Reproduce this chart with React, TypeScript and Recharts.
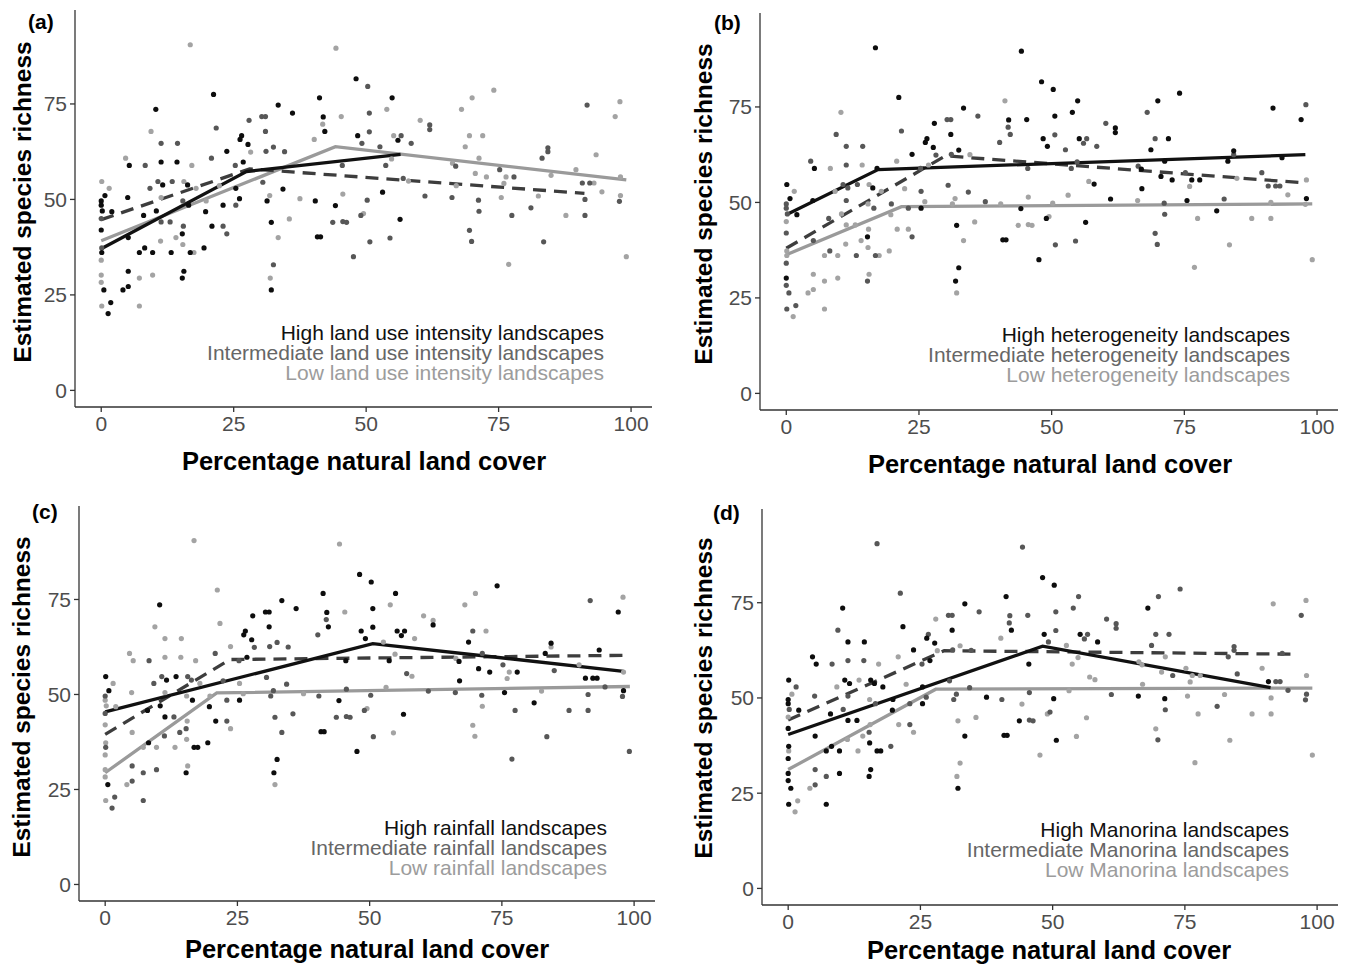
import { ComposedChart, Scatter, Line, XAxis, YAxis } from "recharts";

// shared scatter: [percent natural cover, richness, group in panels a/b/c/d]
// B = high, D = intermediate, L = low
const points: [number, number, string][] = [
  [16.8, 90.5, "LBLD"], [44.3, 89.6, "LBLD"], [21.2, 77.5, "BBLD"], [10.3, 73.6, "BLBB"],
  [41.2, 76.6, "BLBB"], [33.4, 74.7, "BBBB"], [36.1, 72.6, "BDBD"], [41.9, 71.6, "BBBD"],
  [30.3, 71.7, "DDBD"], [31.0, 71.7, "DDBD"], [27.9, 70.7, "DBBL"], [41.8, 69.7, "LDDD"],
  [42.2, 67.8, "BDBB"], [9.4, 67.8, "LDLD"], [21.7, 68.7, "DDLB"], [31.0, 67.8, "DBBB"],
  [40.2, 65.7, "LDDL"], [26.5, 66.7, "BBBD"], [26.2, 65.7, "BBBB"], [27.7, 64.4, "BBBB"],
  [32.5, 63.7, "DBDL"], [34.6, 62.5, "DLDD"], [11.3, 64.7, "DDLB"], [14.4, 64.7, "DDLB"],
  [23.7, 62.6, "BBLB"], [20.8, 60.8, "DLDL"], [31.1, 62.6, "DDDD"], [4.6, 60.8, "LDLB"],
  [26.8, 59.8, "BLBB"], [11.3, 59.8, "BDLD"], [14.3, 59.8, "BLLD"], [5.3, 58.9, "BBLB"],
  [8.3, 58.9, "DLDD"], [17.1, 58.9, "LBLL"], [25.3, 58.9, "DDDD"], [0.1, 54.7, "LBBB"],
  [10.7, 54.7, "DDDB"], [13.4, 54.7, "DDBL"], [15.6, 54.7, "LLDB"], [16.3, 53.8, "BBDB"],
  [11.6, 53.8, "BDBB"], [9.2, 52.9, "DLDL"], [25.4, 52.9, "BDLB"], [31.8, 51.0, "LLDD"],
  [34.3, 52.7, "BDDD"], [0.7, 51.0, "BBBL"], [0.0, 49.6, "BDDB"], [2.0, 46.8, "BBLB"],
  [5.0, 50.5, "BBLD"], [11.3, 50.5, "LDLD"], [15.4, 49.6, "DLLL"], [16.5, 48.5, "BDBD"],
  [19.7, 46.8, "BLBB"], [23.0, 48.5, "BDDD"], [25.4, 48.5, "DBBB"], [26.1, 50.2, "BLLD"],
  [37.5, 50.2, "LDLB"], [31.3, 49.6, "BLDD"], [40.4, 49.6, "BLDD"], [44.2, 48.4, "BBBL"],
  [0.0, 42.0, "BDLB"], [8.0, 45.8, "BDBB"], [10.4, 47.0, "BLBD"], [11.3, 44.1, "DLBB"],
  [13.0, 44.1, "DLDB"], [20.9, 43.0, "BLBL"], [23.0, 43.0, "DLDD"], [23.7, 41.0, "DDLL"],
  [15.5, 43.0, "DLLL"], [15.3, 41.0, "BBDD"], [14.1, 40.0, "LLDL"], [5.1, 40.0, "BDLB"],
  [11.2, 39.1, "LLDL"], [15.4, 38.2, "LLLB"], [19.4, 37.3, "BLBD"], [8.2, 37.3, "BDBB"],
  [0.1, 37.3, "DLLB"], [0.1, 36.1, "BLDL"], [7.2, 36.1, "BLLB"], [9.7, 36.1, "BLLB"],
  [13.2, 36.1, "BDLL"], [16.8, 36.1, "BDBB"], [17.5, 36.1, "LLBB"], [0.0, 34.1, "LDLB"],
  [5.1, 31.2, "BLDD"], [15.6, 31.2, "BLLB"], [15.3, 29.4, "BDBB"], [7.2, 29.4, "LLDD"],
  [9.7, 30.2, "LLDB"], [0.0, 30.2, "LBLB"], [0.0, 28.3, "LDLB"], [0.5, 26.3, "BDBB"],
  [4.1, 26.3, "BLLL"], [5.1, 27.2, "BLDD"], [31.9, 29.4, "LBBL"], [32.5, 32.9, "DBBL"],
  [33.4, 40.0, "LLDB"], [35.5, 44.9, "LLDL"], [32.1, 44.0, "BBDL"], [32.1, 26.3, "BLLB"],
  [0.1, 22.1, "LDLB"], [1.8, 23.0, "BDDL"], [1.3, 20.1, "BLDL"], [7.2, 22.1, "LLDB"],
  [40.8, 40.2, "BBBB"], [41.4, 40.2, "BBBB"], [43.7, 44.0, "DLDB"], [0.0, 48.5, "BDLB"],
  [0.2, 47.0, "BDLD"], [0.0, 45.0, "DLDL"], [1.5, 52.9, "LLLD"], [22.3, 53.6, "LLDL"],
  [17.9, 52.9, "LLLB"], [19.8, 49.6, "LDLB"], [28.2, 62.4, "LDDL"], [30.5, 54.5, "DDDD"],
  [48.1, 81.6, "BBBB"], [50.3, 79.6, "DBBB"], [54.9, 76.6, "BBBD"], [45.3, 71.7, "LBLD"],
  [50.6, 72.6, "DBBD"], [53.9, 73.6, "LBLD"], [48.4, 66.7, "BBBB"], [49.2, 64.7, "DBBD"],
  [50.6, 67.7, "DDBD"], [52.6, 63.8, "DDLL"], [55.2, 66.7, "LBBB"], [56.6, 66.7, "DDBD"],
  [56.0, 65.5, "BDBD"], [58.5, 64.7, "DDLB"], [60.2, 70.7, "LDLD"], [62.0, 69.5, "DBLD"],
  [62.0, 68.3, "DBBD"], [68.0, 73.6, "LDLB"], [70.0, 76.6, "LBLD"], [74.1, 78.6, "LBBD"],
  [68.7, 63.8, "LBBD"], [69.5, 66.7, "LDDD"], [72.0, 66.7, "LBLD"], [71.3, 60.8, "LBDL"],
  [45.5, 58.9, "DDBB"], [53.7, 58.9, "DDBL"], [53.1, 51.9, "BLLL"], [50.2, 49.8, "DLDB"],
  [49.5, 46.3, "LLLD"], [49.0, 45.8, "DBDL"], [56.4, 44.8, "BBBL"], [45.6, 44.2, "DLDD"],
  [46.3, 44.0, "DLDD"], [45.6, 51.4, "LLDD"], [58.0, 54.8, "LBLL"], [57.0, 55.5, "DLDL"],
  [61.1, 50.9, "DBDD"], [50.7, 38.9, "DDDB"], [54.5, 39.9, "DDLL"], [47.6, 35.0, "DBBL"],
  [66.9, 58.7, "DBBL"], [66.3, 59.5, "LDLL"], [67.0, 53.6, "LBBL"], [66.2, 50.5, "DLDB"],
  [70.6, 56.8, "LBBL"], [72.7, 55.9, "LBBD"], [75.2, 57.8, "DDDL"], [76.4, 55.9, "LBLL"],
  [77.9, 55.9, "DBBL"], [76.0, 54.2, "LLLL"], [75.5, 50.5, "LBBL"], [71.2, 49.8, "DDDB"],
  [71.3, 46.9, "DDLD"], [69.5, 41.9, "DDLL"], [69.9, 39.0, "DDLD"], [77.5, 45.8, "DLDL"],
  [76.9, 33.0, "LLDL"], [81.1, 47.8, "DBBD"], [83.5, 38.9, "DLDL"], [83.2, 60.8, "DBBD"],
  [84.3, 63.5, "DBBD"], [84.3, 62.5, "DDLD"], [84.9, 56.3, "LLDD"], [82.5, 50.9, "LDLL"],
  [87.7, 45.8, "LLDL"], [89.6, 57.8, "LDLL"], [91.7, 74.7, "DBDL"], [90.8, 54.3, "DDBB"],
  [92.2, 54.3, "DDBD"], [91.3, 50.0, "DLDL"], [91.3, 45.8, "DLDL"], [93.0, 54.3, "LDBD"],
  [93.4, 61.7, "LBBD"], [94.5, 52.0, "LLDD"], [97.0, 71.7, "LBBD"], [97.9, 75.6, "LDLL"],
  [98.0, 55.9, "LLLL"], [98.0, 51.0, "LBBD"], [97.8, 49.5, "DLDD"], [99.1, 35.0, "LLDL"],
  [54.8, 60.6, "LDLL"],
];

// fitted piecewise lines
const highA = [{ x: 0, y: 37.1 }, { x: 27.4, y: 57.3 }, { x: 56.5, y: 61.8 }];
const midA = [{ x: 0, y: 44.7 }, { x: 28, y: 58 }, { x: 91.2, y: 51.6 }];
const lowA = [{ x: 0, y: 39.2 }, { x: 44.2, y: 63.8 }, { x: 99.1, y: 55.1 }];
const highB = [{ x: 0, y: 46.8 }, { x: 17.3, y: 58.6 }, { x: 97.8, y: 62.5 }];
const midB = [{ x: 0, y: 38 }, { x: 30, y: 62.2 }, { x: 97.8, y: 55.1 }];
const lowB = [{ x: 0, y: 36.3 }, { x: 21.7, y: 48.9 }, { x: 99.1, y: 49.6 }];
const highC = [{ x: 0, y: 45.4 }, { x: 50.6, y: 63.4 }, { x: 98, y: 56.1 }];
const midC = [{ x: 0, y: 39.5 }, { x: 23.6, y: 59.2 }, { x: 98, y: 60.3 }];
const lowC = [{ x: 0, y: 29.4 }, { x: 21.1, y: 50.4 }, { x: 99.2, y: 52.1 }];
const highD = [{ x: 0, y: 40.4 }, { x: 48.1, y: 63.6 }, { x: 91.2, y: 52.7 }];
const midD = [{ x: 0, y: 44.2 }, { x: 29.5, y: 62.4 }, { x: 95.3, y: 61.5 }];
const lowD = [{ x: 0, y: 31.2 }, { x: 27.9, y: 52.3 }, { x: 99.1, y: 52.6 }];

const xTicks = [0, 25, 50, 75, 100];
const yTicks = [0, 25, 50, 75];
const panelTags = ["(a)", "(b)", "(c)", "(d)"];
const drivers = ["land use intensity", "heterogeneity", "rainfall", "Manorina"];
const levels = ["High", "Intermediate", "Low"];
const xTitle = "Percentage natural land cover";
const yTitle = "Estimated species richness";

const FONT = "'Liberation Sans', Arial, Helvetica, sans-serif";
const shade: Record<string, string> = { B: "#0d0d0d", D: "#575757", L: "#a3a3a3" };
const textShade = ["#111111", "#666666", "#9c9c9c"];

const layout = [
  { box: { left: 75, top: 10, w: 577, h: 397 }, tag: [28, 29], yt: [31, 202], xt: [364, 470], leg: [604, 340] },
  { box: { left: 760, top: 13, w: 578, h: 397 }, tag: [714, 30], yt: [712, 204], xt: [1050, 473], leg: [1290, 342] },
  { box: { left: 79, top: 506, w: 576, h: 395 }, tag: [32, 519], yt: [30, 697], xt: [367, 958], leg: [607, 835] },
  { box: { left: 762, top: 509, w: 576, h: 396 }, tag: [713, 520], yt: [712, 698], xt: [1049, 959], leg: [1289, 837] },
];
const fits = [
  [highA, midA, lowA],
  [highB, midB, lowB],
  [highC, midC, lowC],
  [highD, midD, lowD],
];

const dot = (fill: string) => (p: any) => <circle cx={p.cx} cy={p.cy} r={2.6} fill={fill} />;

function Panel({ idx }: { idx: number }) {
  const { box } = layout[idx];
  const [high, mid, low] = fits[idx];
  const YW = 70, XH = 50, MT = 2, MR = 6;
  const group = (g: string) => points.filter((p) => p[2][idx] === g).map((p) => ({ x: p[0], y: p[1] }));
  const tick = { fill: "#4d4d4d", fontSize: 21, fontFamily: FONT };
  const axis = { stroke: "#333333", strokeWidth: 1.3 };
  return (
    <div style={{ position: "absolute", left: box.left - YW, top: box.top - MT }}>
      <ComposedChart width={YW + box.w + MR} height={MT + box.h + XH} margin={{ top: MT, right: MR, bottom: 0, left: 0 }}>
        <XAxis type="number" dataKey="x" domain={[-4.95, 103.95]} ticks={xTicks} allowDataOverflow
          height={XH} tick={tick} tickSize={5} tickMargin={4} axisLine={axis} tickLine={axis} />
        <YAxis type="number" dataKey="y" domain={[-4.35, 99.6]} ticks={yTicks} allowDataOverflow
          width={YW} tick={tick} tickSize={5} tickMargin={3} axisLine={axis} tickLine={axis} />
        <Scatter data={group("L")} shape={dot(shade.L)} isAnimationActive={false} />
        <Scatter data={group("D")} shape={dot(shade.D)} isAnimationActive={false} />
        <Scatter data={group("B")} shape={dot(shade.B)} isAnimationActive={false} />
        <Line data={low} dataKey="y" type="linear" stroke="#9a9a9a" strokeWidth={3.3} dot={false} isAnimationActive={false} />
        <Line data={mid} dataKey="y" type="linear" stroke="#3d3d3d" strokeWidth={3.3} strokeDasharray="13 8" dot={false} isAnimationActive={false} />
        <Line data={high} dataKey="y" type="linear" stroke="#111111" strokeWidth={3.3} dot={false} isAnimationActive={false} />
      </ComposedChart>
    </div>
  );
}

export default function App() {
  return (
    <div style={{ position: "absolute", left: 0, top: 0, width: 1349, height: 966, background: "#fff", overflow: "hidden" }}>
      {[0, 1, 2, 3].map((i) => <Panel key={i} idx={i} />)}
      <svg width={1349} height={966} style={{ position: "absolute", left: 0, top: 0, pointerEvents: "none" }} fontFamily={FONT}>
        {layout.map((l, i) => (
          <g key={i}>
            <text x={l.tag[0]} y={l.tag[1]} fontSize={21} fontWeight="bold" fill="#000">{panelTags[i]}</text>
            <text transform={`translate(${l.yt[0]},${l.yt[1]}) rotate(-90)`} textAnchor="middle" fontSize={24.5} fontWeight="bold" fill="#000">{yTitle}</text>
            <text x={l.xt[0]} y={l.xt[1]} textAnchor="middle" fontSize={25.5} fontWeight="bold" fill="#000">{xTitle}</text>
            {levels.map((lv, k) => (
              <text key={lv} x={l.leg[0]} y={l.leg[1] + k * 20} textAnchor="end" fontSize={21} fill={textShade[k]}>
                {`${lv} ${drivers[i]} landscapes`}
              </text>
            ))}
          </g>
        ))}
      </svg>
    </div>
  );
}
